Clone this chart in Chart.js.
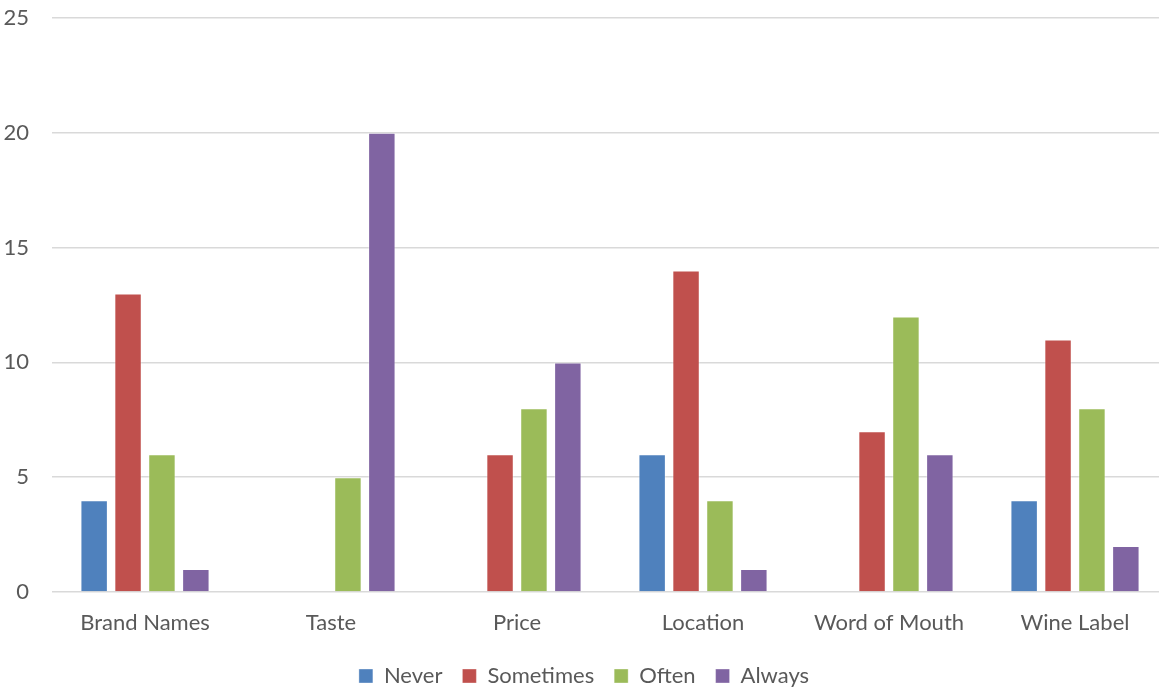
<!DOCTYPE html>
<html>
<head>
<meta charset="utf-8">
<script src="https://cdn.jsdelivr.net/npm/chart.js@4"></script>
<style>
  html, body { margin: 0; padding: 0; background: #ffffff; overflow: hidden; width: 1159px; height: 687px; }
  canvas { display: block; }
</style>
</head>
<body>
<canvas id="c" width="1168" height="697"></canvas>
<script>
const categories = ['Brand Names', 'Taste', 'Price', 'Location', 'Word of Mouth', 'Wine Label'];
const never     = [4, 0, 0, 6, 0, 4];
const sometimes = [13, 0, 6, 14, 7, 11];
const often     = [6, 5, 8, 4, 12, 8];
const always    = [1, 20, 10, 1, 6, 2];
const yTicks    = [0, 5, 10, 15, 20, 25];

const FONT = 'Lato, "Open Sans", sans-serif';
const TEXT = '#595959';
const GRID = '#d9d9d9';

function series(label, data, color) {
  return {
    label, data,
    backgroundColor: color,
    borderColor: 'rgba(255,255,255,0.35)',
    borderWidth: 1,
    categoryPercentage: 0.729,
    barPercentage: 0.81
  };
}

new Chart(document.getElementById('c'), {
  type: 'bar',
  data: {
    labels: categories,
    datasets: [
      series('Never', never, '#4F81BD'),
      series('Sometimes', sometimes, '#C0504D'),
      series('Often', often, '#9BBB59'),
      series('Always', always, '#8064A2')
    ]
  },
  options: {
    responsive: false,
    animation: false,
    devicePixelRatio: 1,
    layout: { padding: { top: 18, right: 0, bottom: 0, left: 0 } },
    plugins: {
      tooltip: { enabled: false },
      legend: {
        position: 'bottom',
        labels: {
          font: { family: FONT, size: 22 },
          color: TEXT,
          boxWidth: 14,
          boxHeight: 14,
          padding: 20
        }
      }
    },
    scales: {
      x: {
        grid: { display: false, drawTicks: false },
        border: { display: false },
        ticks: { font: { family: FONT, size: 22 }, color: TEXT, padding: 18, maxRotation: 0 },
        afterFit: s => { s.height = 53; }
      },
      y: {
        min: 0, max: 25,
        afterBuildTicks: s => { s.ticks = yTicks.map(v => ({ value: v })); },
        afterFit: s => { s.width = 52; s.paddingTop = 0; s.paddingBottom = 0; },
        grid: { color: GRID, lineWidth: 1.6, drawTicks: false },
        border: { display: false },
        ticks: { font: { family: FONT, size: 22 }, color: TEXT, padding: 23 }
      }
    }
  }
});
</script>
</body>
</html>
